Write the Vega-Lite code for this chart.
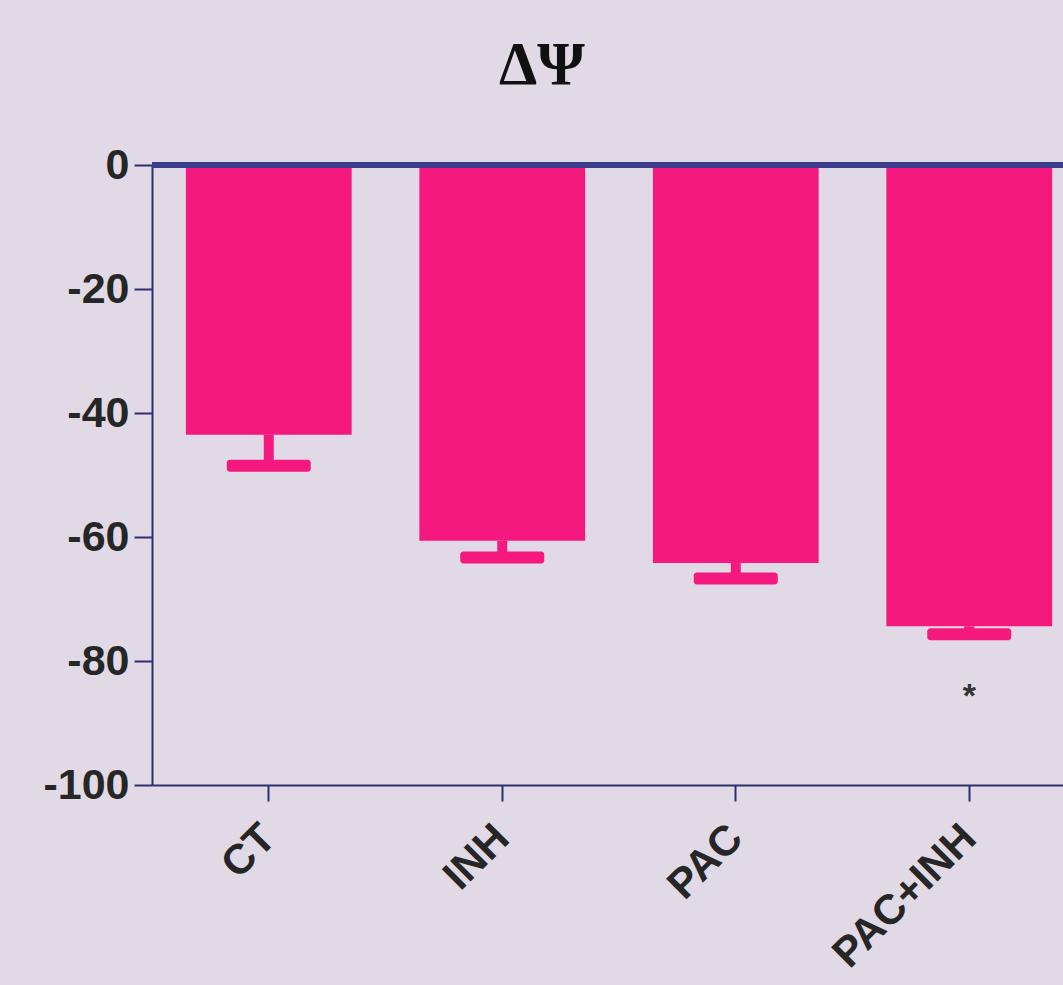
{
  "$schema": "https://vega.github.io/schema/vega-lite/v6.json",
  "autosize": "none",
  "padding": {"left": 152, "top": 165, "right": 0, "bottom": 200},
  "width": 934,
  "height": 620,
  "background": "#e1dae6",
  "title": {
    "text": "ΔΨ",
    "font": "Liberation Serif",
    "fontSize": 61,
    "fontWeight": "bold",
    "color": "#111111",
    "anchor": "middle",
    "dx": -77,
    "offset": 47
  },
  "data": {
    "values": [
      {"group": "CT", "mean": -43.5, "low": -48.5},
      {"group": "INH", "mean": -60.6, "low": -63.3},
      {"group": "PAC", "mean": -64.2, "low": -66.7},
      {"group": "PAC+INH", "mean": -74.4, "low": -75.7, "sig": "*", "sigpos": -84.5}
    ]
  },
  "encoding": {
    "x": {
      "field": "group",
      "type": "nominal",
      "sort": null,
      "scale": {"paddingInner": 0.29, "paddingOuter": 0.145},
      "axis": {
        "title": null,
        "labelAngle": -45,
        "labelAlign": "right",
        "labelBaseline": "middle",
        "labelLimit": 500,
        "labelFont": "Liberation Sans",
        "labelFontSize": 42,
        "labelFontWeight": "bold",
        "labelColor": "#262626",
        "domainColor": "#2e2f6e",
        "domainWidth": 2,
        "tickColor": "#2e2f6e",
        "tickWidth": 2,
        "tickSize": 16,
        "labelPadding": 30
      }
    }
  },
  "layer": [
    {
      "mark": {"type": "bar", "color": "#f5187e"},
      "encoding": {
        "y": {
          "field": "mean",
          "type": "quantitative",
          "scale": {"domain": [-100, 0], "nice": false},
          "axis": {
            "title": null,
            "values": [0, -20, -40, -60, -80, -100],
            "labelExpr": "toString(datum.value)",
            "grid": false,
            "labelFont": "Liberation Sans",
            "labelFontSize": 43,
            "labelFontWeight": "bold",
            "labelColor": "#262626",
            "domainColor": "#2e2f6e",
            "domainWidth": 2,
            "tickColor": "#2e2f6e",
            "tickWidth": 2,
            "tickSize": 18,
            "labelPadding": 5
          }
        }
      }
    },
    {
      "mark": {"type": "rule", "color": "#f5187e", "strokeWidth": 10},
      "encoding": {
        "y": {"field": "mean", "type": "quantitative"},
        "y2": {"field": "low"}
      }
    },
    {
      "mark": {"type": "tick", "color": "#f5187e", "opacity": 1, "thickness": 12, "size": 84, "cornerRadius": 3},
      "encoding": {
        "y": {"field": "low", "type": "quantitative"}
      }
    },
    {
      "mark": {"type": "rule", "color": "#3b3d8c", "strokeWidth": 6},
      "encoding": {"y": {"datum": 0, "type": "quantitative"}, "x": {"value": 0}, "x2": {"value": 934}}
    },
    {
      "mark": {"type": "text", "font": "Liberation Sans", "fontSize": 34, "fontWeight": "bold", "color": "#333333", "baseline": "middle", "dy": 8},
      "encoding": {
        "y": {"field": "sigpos", "type": "quantitative"},
        "text": {"field": "sig"}
      }
    }
  ],
  "config": {
    "view": {"stroke": null}
  }
}
